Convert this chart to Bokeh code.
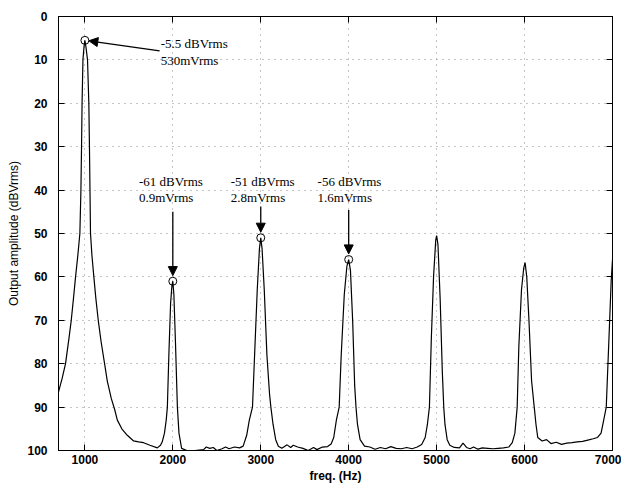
from bokeh.plotting import figure
from bokeh.models import Range1d, FixedTicker, LinearAxis, Arrow, NormalHead, ColumnDataSource
from bokeh.core.properties import value
from bokeh.embed import file_html
from bokeh.resources import INLINE

# ---- spectrum data (freq Hz, output amplitude in -dBVrms) ----
freq = [700, 740, 780, 820, 845, 870, 894, 920, 943, 955, 962, 968, 978, 990, 1000,
        1012, 1030, 1045, 1052, 1058, 1064, 1080, 1102, 1125, 1152, 1185, 1224, 1255,
        1300, 1338, 1369, 1420, 1482, 1554, 1610, 1668, 1740, 1824, 1860, 1880, 1905,
        1925, 1938, 1955, 1975, 1990, 2000, 2012, 2030, 2052, 2070, 2100, 2160, 2250,
        2350, 2380, 2420, 2460, 2500, 2560, 2600, 2640, 2700, 2760, 2800, 2840, 2870,
        2906, 2930, 2960, 2985, 3000, 3015, 3040, 3070, 3100, 3115, 3140, 3170, 3200,
        3240, 3300, 3340, 3370, 3420, 3480, 3540, 3600, 3640, 3700, 3760, 3800, 3830,
        3860, 3892, 3915, 3950, 3980, 4000, 4020, 4045, 4068, 4083, 4100, 4130, 4180,
        4240, 4300, 4360, 4420, 4480, 4540, 4600, 4660, 4720, 4780, 4830, 4870, 4895,
        4918, 4940, 4965, 4990, 5000, 5015, 5040, 5065, 5081, 5095, 5120, 5150, 5200,
        5260, 5300, 5340, 5380, 5420, 5470, 5520, 5580, 5640, 5700, 5760, 5820, 5860,
        5890, 5916, 5935, 5965, 5990, 6006, 6025, 6050, 6080, 6110, 6130, 6150, 6200,
        6250, 6300, 6360, 6420, 6480, 6540, 6600, 6660, 6720, 6780, 6830, 6870, 6900,
        6929, 6960, 6985, 7000]
amp = [86.5, 83.5, 80, 74, 70, 65, 60, 55, 50, 40, 30, 20, 10, 7, 5.5,
       7, 10, 20, 30, 40, 50, 55, 60, 65, 70, 75, 80, 84,
       88, 90.5, 93, 95, 96.5, 97.8, 98, 98.2, 98.8, 99.4, 98.8, 98, 96,
       93, 90, 78, 66, 62, 61, 64, 75, 90, 96, 99.5, 100, 100,
       99.8, 99.2, 99.5, 99.3, 100, 99.6, 99.2, 99.6, 99.2, 99.4, 99.0, 96.5, 93,
       90, 78, 63, 53.5, 51, 53.5, 63, 78, 87, 90, 94, 97.5, 99,
       99.5, 98.7, 99.3, 98.8, 99.2, 99.5, 100, 99.3, 99.8, 99.2, 99.1, 98.5, 97,
       93, 90, 78, 64, 57.5, 56, 58.5, 70, 85, 90, 94, 97.5, 99,
       99.2, 99.7, 99.3, 99.6, 99.1, 99.5, 99.6, 99.3, 99.6, 99.2, 98.6, 97, 94,
       90, 74, 60, 51.5, 50.5, 52.5, 65, 82, 90, 94, 97.5, 98.8, 99.3,
       99.4, 98.3, 99.3, 99.6, 99.2, 99.7, 99.4, 99.5, 99.6, 99.5, 99.4, 99.2, 98.2,
       96, 90, 76, 63, 58, 56.7, 60, 70, 84, 90, 94, 97, 97.8,
       97.5, 98.4, 98.1, 98.6, 98.3, 98.2, 98.0, 97.9, 97.6, 97.3, 97, 96, 93,
       90, 74, 61, 56]

# ---- marked harmonics ----
peak_freq = [1000, 2000, 3000, 4000]
peak_amp = [5.5, 61, 51, 56]
label_line1 = ["-5.5 dBVrms", "-61 dBVrms", "-51 dBVrms", "-56 dBVrms"]
label_line2 = ["530mVrms", "0.9mVrms", "2.8mVrms", "1.6mVrms"]

# ---- ticks ----
x_ticks = [1000, 2000, 3000, 4000, 5000, 6000, 7000]
y_ticks = [0, 10, 20, 30, 40, 50, 60, 70, 80, 90, 100]

# ---- annotation layout (positions of texts/arrow tails, data units) ----
text_x = [1862, 1615, 2659, 3646]
text_y1 = [6.2, 38.1, 38.1, 38.1]
text_y2 = [10.1, 41.6, 41.6, 41.6]
arrow_start_x = [1850, 2000, 3000, 4000]
arrow_start_y = [7.9, 45.0, 43.8, 44.6]
arrow_end_dx = [45, 0, 0, 0]
arrow_end_dy = [0.1, -1.3, -1.3, -1.3]

p = figure(width=621, height=485, output_backend="svg", toolbar_location=None,
           x_range=Range1d(700, 7000), y_range=Range1d(100, 0),
           min_border_left=58, min_border_right=9, min_border_top=16, min_border_bottom=34)
p.background_fill_color = "white"
p.border_fill_color = "white"
p.outline_line_color = "black"
p.outline_line_width = 1

p.xaxis.ticker = FixedTicker(ticks=x_ticks)
p.yaxis.ticker = FixedTicker(ticks=y_ticks)
for ax in (p.xaxis[0], p.yaxis[0]):
    ax.major_tick_in = 6
    ax.major_tick_out = 0
    ax.minor_tick_in = 0
    ax.minor_tick_out = 0
    ax.axis_line_color = "black"
    ax.major_tick_line_color = "black"
    ax.major_label_text_font = "Liberation Sans"
    ax.major_label_text_font_style = "bold"
    ax.major_label_text_font_size = "12px"
    ax.major_label_text_color = "black"
    ax.axis_label_text_color = "black"
    ax.axis_label_text_font = "Liberation Sans"
    ax.axis_label_text_font_size = "12px"

p.xaxis.axis_label = "freq. (Hz)"
p.xaxis.axis_label_text_font_style = "bold"
p.xaxis.major_label_standoff = 4
p.xaxis.axis_label_standoff = 2
p.yaxis.axis_label = "Output amplitude (dBVrms)"
p.yaxis.axis_label_text_font_style = "normal"
p.yaxis.major_label_standoff = 11
p.yaxis.axis_label_standoff = 3

# top and right axes: inward ticks only, labels not drawn
top_ax = LinearAxis(ticker=FixedTicker(ticks=x_ticks), major_tick_in=6, major_tick_out=0,
                    minor_tick_in=0, minor_tick_out=0, major_label_text_font_size="1px",
                    major_label_text_color=None, major_label_standoff=0,
                    axis_line_color="black")
right_ax = LinearAxis(ticker=FixedTicker(ticks=y_ticks), major_tick_in=6, major_tick_out=0,
                      minor_tick_in=0, minor_tick_out=0, major_label_text_font_size="1px",
                      major_label_text_color=None, major_label_standoff=0,
                      axis_line_color="black")
p.add_layout(top_ax, "above")
p.add_layout(right_ax, "right")

p.xgrid.ticker = FixedTicker(ticks=x_ticks)
p.ygrid.ticker = FixedTicker(ticks=y_ticks)
for g in (p.xgrid[0], p.ygrid[0]):
    g.grid_line_color = "#8a8a8a"
    g.grid_line_dash = "1 5"
    g.grid_line_width = 1

p.line(freq, amp, line_color="black", line_width=1.2)

p.scatter(peak_freq, peak_amp, marker="circle", size=8, fill_color=None,
          line_color="black", line_width=1)

src = ColumnDataSource(dict(x=text_x, y1=text_y1, y2=text_y2, t1=label_line1, t2=label_line2))
for ycol, tcol in (("y1", "t1"), ("y2", "t2")):
    p.text(x="x", y=ycol, text=tcol, source=src, text_font=value("Liberation Serif"),
           text_font_size="13px", text_align="left", text_baseline="middle",
           text_color="black")

for i in range(len(peak_freq)):
    p.add_layout(Arrow(end=NormalHead(size=9, fill_color="black", line_color="black", line_width=1),
                       x_start=arrow_start_x[i], y_start=arrow_start_y[i],
                       x_end=peak_freq[i] + arrow_end_dx[i], y_end=peak_amp[i] + arrow_end_dy[i],
                       line_color="black", line_width=1.3))

open("out.html", "w").write(file_html(p, INLINE))
